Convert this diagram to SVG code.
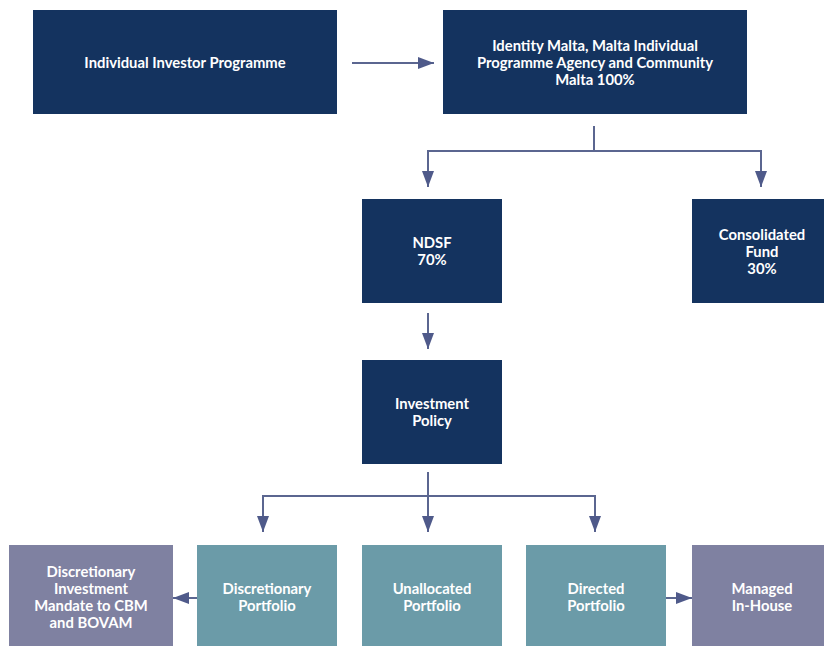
<svg xmlns="http://www.w3.org/2000/svg" width="824" height="646" viewBox="0 0 824 646">
<defs>
<style>
.navy{fill:#14335f}
.teal{fill:#6b9ba8}
.purp{fill:#7f81a1}
.t{fill:#ffffff;font-family:Lato,"Open Sans","Liberation Sans",sans-serif;font-weight:bold;font-size:14.8px;text-anchor:middle}
.c{fill:none;stroke:#5b6690;stroke-width:2;marker-end:url(#ah)}
</style>
<marker id="ah" markerUnits="userSpaceOnUse" markerWidth="16" markerHeight="12" refX="16" refY="6" orient="auto">
<path d="M0,0 L16,6 L0,12 z" fill="#4f5a8a"/>
</marker>
</defs>
<rect width="824" height="646" fill="#ffffff"/>
<g id="connectors">
<path class="c" d="M352 63 H434"/>
<path class="c" d="M594 126 V151 H428 V187"/>
<path class="c" d="M594 151 H761 V187"/>
<path class="c" d="M428 313 V349"/>
<path class="c" d="M428 472 V496 H263 V532"/>
<path class="c" d="M428 496 V532"/>
<path class="c" d="M428 496 H595 V532"/>
<path class="c" d="M197 598 H173"/>
<path class="c" d="M666 598 H692"/>
</g>
<g id="iip">
<rect class="navy" x="33" y="10" width="304" height="104"/>
<text class="t" x="185" y="68">Individual Investor Programme</text>
</g>
<g id="identity">
<rect class="navy" x="443" y="10" width="304" height="104"/>
<text class="t" x="595" y="51">Identity Malta, Malta Individual</text>
<text class="t" x="595" y="68">Programme Agency and Community</text>
<text class="t" x="595" y="85">Malta 100%</text>
</g>
<g id="ndsf">
<rect class="navy" x="362" y="199" width="140" height="104"/>
<text class="t" x="432" y="248">NDSF</text>
<text class="t" x="432" y="265">70%</text>
</g>
<g id="consolidated">
<rect class="navy" x="692" y="199" width="140" height="104"/>
<text class="t" x="762" y="240">Consolidated</text>
<text class="t" x="762" y="257">Fund</text>
<text class="t" x="762" y="274">30%</text>
</g>
<g id="policy">
<rect class="navy" x="362" y="360" width="140" height="104"/>
<text class="t" x="432" y="409">Investment</text>
<text class="t" x="432" y="426">Policy</text>
</g>
<g id="mandate">
<rect class="purp" x="9" y="545" width="164" height="104"/>
<text class="t" x="91" y="577">Discretionary</text>
<text class="t" x="91" y="594">Investment</text>
<text class="t" x="91" y="611">Mandate to CBM</text>
<text class="t" x="91" y="628">and BOVAM</text>
</g>
<g id="discretionary">
<rect class="teal" x="197" y="545" width="140" height="104"/>
<text class="t" x="267" y="594">Discretionary</text>
<text class="t" x="267" y="611">Portfolio</text>
</g>
<g id="unallocated">
<rect class="teal" x="362" y="545" width="140" height="104"/>
<text class="t" x="432" y="594">Unallocated</text>
<text class="t" x="432" y="611">Portfolio</text>
</g>
<g id="directed">
<rect class="teal" x="526" y="545" width="140" height="104"/>
<text class="t" x="596" y="594">Directed</text>
<text class="t" x="596" y="611">Portfolio</text>
</g>
<g id="inhouse">
<rect class="purp" x="692" y="545" width="140" height="104"/>
<text class="t" x="762" y="594">Managed</text>
<text class="t" x="762" y="611">In-House</text>
</g>
</svg>
